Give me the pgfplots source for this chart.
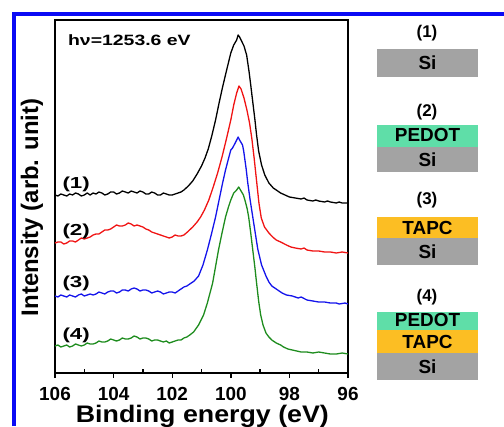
\documentclass[border=0pt]{standalone}
\usepackage{fontspec}
\setmainfont{Liberation Sans}
\usepackage{pgfplots}
\pgfplotsset{compat=1.18}
\usepackage{graphicx}
\definecolor{frameblue}{RGB}{10,10,245}
\definecolor{sigray}{RGB}{163,163,163}
\definecolor{pedot}{RGB}{95,222,168}
\definecolor{tapc}{RGB}{252,190,35}
\definecolor{c1}{RGB}{0,0,0}
\definecolor{c2}{RGB}{240,20,20}
\definecolor{c3}{RGB}{20,20,235}
\definecolor{c4}{RGB}{30,140,30}

\begin{document}
\begin{tikzpicture}[x=1bp,y=1bp]
\useasboundingbox (0,0) rectangle (504,426);
\begin{axis}[
    at={(55bp,53bp)}, anchor=south west,
    width=293bp, height=353bp, scale only axis,
    xmin=96, xmax=106, x dir=reverse,
    ymin=0, ymax=353,
    xtick={96,98,...,106}, ytick=\empty,
    xtick pos=bottom,
    tick align=outside, major tick length=5bp,
    extra x ticks={97,99,...,105}, extra x tick labels={},
    extra x tick style={tick align=inside, major tick length=4bp},
    tick style={line width=1.4bp, black},
    axis line style={line width=1.6bp, black},
    /pgf/number format/assume math mode=true,
    xticklabel style={font=\fontsize{19}{22}\selectfont\bfseries, anchor=base, yshift=-22bp},
    xlabel={\scalebox{1.12}[1]{Binding energy (eV)}},
    ylabel={Intensity (arb. unit)},
    label style={font=\fontsize{24}{28}\selectfont\bfseries},
    xlabel style={at={(axis description cs:0.503,-0.139)}, anchor=base},
    ylabel style={at={(axis description cs:-0.058,0.469)}, anchor=base, rotate=0},
    every axis plot/.append style={line width=1.3bp, line join=round},
]
% (1) Si
\addplot[c1] coordinates {
(106.0,178) (105.9,177) (105.8,179) (105.7,178) (105.6,177) (105.5,179)
(105.4,178) (105.3,180) (105.2,179) (105.1,177) (105.0,178) (104.9,180)
(104.8,178) (104.7,180) (104.6,179) (104.5,181) (104.4,180) (104.3,178)
(104.2,179) (104.1,181) (104.0,181) (103.9,179) (103.8,180) (103.7,182)
(103.6,181) (103.5,180) (103.4,182) (103.3,181) (103.2,180) (103.1,182)
(103.0,181) (102.9,179) (102.8,179) (102.7,181) (102.6,180) (102.5,178)
(102.4,178) (102.3,180) (102.2,179) (102.1,178) (102.0,178) (101.9,179)
(101.8,180) (101.7,181) (101.6,183) (101.45,187) (101.3,192) (101.15,199)
(101.0,207) (100.88,215) (100.77,224) (100.65,237) (100.52,253)
(100.4,270) (100.28,286) (100.15,302) (100.0,320) (99.9,328) (99.8,333)
(99.75,338) (99.7,336) (99.65,333) (99.55,327) (99.46,318) (99.38,302)
(99.32,288) (99.25,271) (99.18,254) (99.12,238) (99.05,222) (98.95,208)
(98.84,198) (98.7,190) (98.55,185) (98.4,182) (98.3,180) (98.15,178)
(98.0,176) (97.8,175) (97.6,174) (97.5,175) (97.4,173) (97.2,172)
(97.1,173) (97.0,172) (96.8,171) (96.7,172) (96.6,171) (96.4,170)
(96.3,171) (96.2,170) (96.0,170)
};
% (2) PEDOT/Si
\addplot[c2] coordinates {
(106.0,130) (105.9,131) (105.8,131) (105.7,129) (105.6,130) (105.5,132)
(105.4,132) (105.3,131) (105.2,133) (105.1,135) (105.0,134) (104.9,135)
(104.8,136) (104.7,138) (104.6,139) (104.5,139) (104.4,141) (104.3,143)
(104.2,143) (104.1,144) (104.0,146) (103.9,148) (103.8,147) (103.7,147)
(103.6,148) (103.5,150) (103.4,149) (103.3,147) (103.2,148) (103.1,147)
(103.0,146) (102.9,144) (102.8,143) (102.7,141) (102.6,140) (102.5,139)
(102.4,138) (102.3,137) (102.2,136) (102.1,135) (102.0,136) (101.9,138)
(101.8,137) (101.7,137) (101.6,138) (101.48,141) (101.3,146) (101.15,151)
(101.03,156) (100.9,163) (100.75,173) (100.6,186) (100.45,200) (100.3,216)
(100.15,234) (100.0,253) (99.9,268) (99.8,280) (99.72,287) (99.65,284)
(99.55,275) (99.45,263) (99.36,250) (99.28,234) (99.2,214) (99.12,192)
(99.04,170) (98.96,155) (98.85,146) (98.7,140) (98.57,136) (98.45,133)
(98.3,131) (98.1,128) (97.95,126) (97.8,125) (97.6,124) (97.5,125)
(97.4,123) (97.2,122) (97.0,122) (96.8,121) (96.6,121) (96.4,120)
(96.2,121) (96.0,120)
};
% (3) TAPC/Si
\addplot[c3] coordinates {
(106.0,77) (105.9,76) (105.8,78) (105.7,77) (105.6,76) (105.5,78)
(105.4,77) (105.3,76) (105.2,78) (105.1,79) (105.0,77) (104.9,78)
(104.8,79) (104.7,78) (104.6,79) (104.5,81) (104.4,80) (104.3,79)
(104.2,81) (104.1,82) (104.0,82) (103.9,80) (103.8,81) (103.7,83)
(103.6,83) (103.5,82) (103.4,84) (103.3,85) (103.2,84) (103.1,82)
(103.0,83) (102.9,83) (102.8,82) (102.7,80) (102.6,81) (102.5,82)
(102.4,81) (102.3,79) (102.2,80) (102.1,81) (102.0,81) (101.9,80)
(101.8,82) (101.7,84) (101.6,86) (101.5,87) (101.4,89) (101.25,92)
(101.1,97) (100.95,108) (100.8,123) (100.66,139) (100.52,156) (100.4,173)
(100.28,190) (100.18,203) (100.1,212) (100.0,223) (99.94,225) (99.85,230)
(99.75,236) (99.7,233) (99.6,228) (99.56,222) (99.48,205) (99.42,190)
(99.34,173) (99.25,156) (99.16,139) (99.08,124) (98.95,108) (98.8,97)
(98.7,91) (98.6,87) (98.5,85) (98.4,83) (98.25,80) (98.1,78)
(97.9,77) (97.7,75) (97.6,76) (97.4,73) (97.2,72) (97.0,71)
(96.8,71) (96.6,70) (96.4,70) (96.3,69) (96.1,70) (96.0,69)
};
% (4) PEDOT/TAPC/Si
\addplot[c4] coordinates {
(106.0,27) (105.9,28) (105.8,26) (105.7,27) (105.6,28) (105.5,26)
(105.4,27) (105.3,29) (105.2,28) (105.1,27) (105.0,28) (104.9,30)
(104.8,29) (104.7,29) (104.6,30) (104.5,32) (104.4,31) (104.3,31)
(104.2,32) (104.1,34) (104.0,33) (103.9,32) (103.8,33) (103.7,35)
(103.6,34) (103.5,34) (103.4,35) (103.3,37) (103.2,36) (103.1,34)
(103.0,35) (102.9,35) (102.8,34) (102.7,32) (102.6,33) (102.5,33)
(102.4,32) (102.3,31) (102.2,32) (102.1,30) (102.0,31) (101.9,32)
(101.8,33) (101.7,33) (101.6,35) (101.5,36) (101.4,38) (101.27,41)
(101.1,48) (100.93,58) (100.8,70) (100.62,90) (100.42,123) (100.3,140)
(100.18,156) (100.08,166) (100.0,173) (99.9,180) (99.8,183) (99.73,186)
(99.65,182) (99.57,178) (99.5,171) (99.44,164) (99.39,156) (99.32,140)
(99.25,123) (99.18,106) (99.12,90) (99.05,72) (98.98,58) (98.9,48)
(98.8,40) (98.7,36) (98.6,33) (98.45,30) (98.3,28) (98.2,26)
(98.05,24) (97.9,23) (97.75,22) (97.6,21) (97.4,21) (97.2,20)
(97.0,21) (96.8,20) (96.6,19) (96.4,19) (96.2,20) (96.0,19)
};
\begin{scope}[every node/.style={font=\fontsize{16}{18}\selectfont\bfseries, anchor=west, inner sep=0pt}]
\node at (axis cs:105.75,188.5) {\scalebox{1.4}[1]{(1)}};
\node at (axis cs:105.75,141.5) {\scalebox{1.4}[1]{(2)}};
\node at (axis cs:105.75,89.5) {\scalebox{1.4}[1]{(3)}};
\node at (axis cs:105.75,38) {\scalebox{1.4}[1]{(4)}};
\end{scope}
\node[font=\fontsize{15}{17}\selectfont\bfseries, anchor=west, inner sep=0pt]
  at (axis cs:105.56,333) {\scalebox{1.3}[1]{hν=1253.6 eV}};
\end{axis}
% blue frame
\draw[frameblue, line width=4bp] (13.5,0) -- (13.5,412) -- (504,412);
% layer schematics
\begin{scope}[every node/.style={font=\fontsize{19}{21}\selectfont\bfseries, inner sep=0pt}]
\node at (427,393) {\fontsize{17}{19}\selectfont(1)};
\fill[sigray] (377,349) rectangle (478,377);
\node at (427.5,363) {Si};
\node at (427,314) {\fontsize{17}{19}\selectfont(2)};
\fill[sigray] (377,254) rectangle (478,279);
\fill[pedot] (377,279) rectangle (478,301);
\node at (427.5,291) {PEDOT};
\node at (427.5,266.5) {Si};
\node at (427,226) {\fontsize{17}{19}\selectfont(3)};
\fill[sigray] (377,161) rectangle (478,188);
\fill[tapc] (377,188) rectangle (478,209);
\node at (427.5,198.5) {TAPC};
\node at (427.5,174.5) {Si};
\node at (427,129) {\fontsize{17}{19}\selectfont(4)};
\fill[sigray] (377,46) rectangle (478,73);
\fill[tapc] (377,73) rectangle (478,96);
\fill[pedot] (377,96) rectangle (478,114);
\node at (427.5,106) {PEDOT};
\node at (427.5,84.5) {TAPC};
\node at (427.5,59.5) {Si};
\end{scope}
\end{tikzpicture}
\end{document}
